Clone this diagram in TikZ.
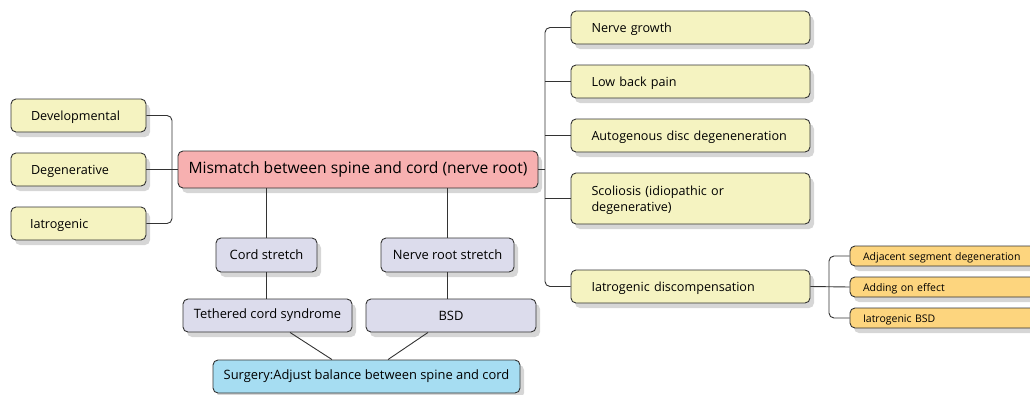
\documentclass[tikz,border=0pt]{standalone}
\usepackage{fontspec}
\setmainfont{Open Sans}
\usetikzlibrary{shadows,calc}
\definecolor{ybox}{HTML}{F5F3C1}
\definecolor{pbox}{HTML}{F7B0B0}
\definecolor{lbox}{HTML}{DCDCEC}
\definecolor{bbox}{HTML}{A6DDF2}
\definecolor{obox}{HTML}{FDD57E}
\definecolor{edge}{HTML}{333333}
\definecolor{shad}{HTML}{D6D6D6}
\tikzset{
  base/.style={draw=edge, line width=0.9pt, rounded corners=5pt, inner sep=0pt,
    drop shadow={shadow xshift=4pt, shadow yshift=-5pt, fill=shad, opacity=1}},
  yel/.style={base, fill=ybox, font=\fontsize{12.6}{16}\selectfont},
  yelL/.style={yel, align=left, inner xsep=20pt, text width=#1, text height=13.5pt, text depth=3pt},
  pink/.style={base, fill=pbox, font=\fontsize{15.6}{18}\selectfont},
  lav/.style={base, fill=lbox, font=\fontsize{12.9}{16}\selectfont},
  blu/.style={base, fill=bbox, font=\fontsize{12.9}{16}\selectfont},
  ora/.style={base, fill=obox, font=\fontsize{10.5}{12}\selectfont, align=left, inner xsep=13pt, text width=#1, text height=11pt, text depth=2.5pt},
  conn/.style={draw=edge, line width=0.9pt, rounded corners=5pt},
}
\begin{document}
\begin{tikzpicture}[x=1pt,y=-1pt]
\useasboundingbox (0,0) rectangle (1030,394);
% left
\node[yelL=95pt, minimum width=135pt, minimum height=33pt] (dev) at (78.5,115.5) {Developmental};
\node[yelL=95pt, minimum width=135pt, minimum height=33pt] (deg) at (78.5,169.5) {Degenerative};
\node[yelL=97pt, inner xsep=19pt, minimum width=135pt, minimum height=33pt] (iat) at (78.5,223.5) {Iatrogenic};
% main
\node[pink, minimum width=360pt, minimum height=37pt] (main) at (358,169.5) {Mismatch between spine and cord (nerve root)};
% right
\node[yelL=198pt, inner xsep=20.5pt, minimum width=239pt, minimum height=33pt] (ng) at (690.5,27.5) {Nerve growth};
\node[yelL=198pt, inner xsep=20.5pt, minimum width=239pt, minimum height=33pt] (lbp) at (690.5,81.5) {Low back pain};
\node[yelL=198pt, inner xsep=20.5pt, minimum width=239pt, minimum height=33pt] (adg) at (690.5,135.5) {Autogenous disc degeneneration};
\node[yel, align=left, text width=198pt, inner xsep=20.5pt, minimum width=239pt, minimum height=51pt, text height=14pt] (sco) at (690.5,198.5) {Scoliosis (idiopathic or\\degenerative)};
\node[yelL=198pt, inner xsep=20.5pt, minimum width=239pt, minimum height=33pt] (idc) at (690.5,286.5) {Iatrogenic discompensation};
% orange
\node[ora=174pt, minimum width=200pt, minimum height=20pt] (asd) at (950,256) {Adjacent segment degeneration};
\node[ora=174pt, minimum width=200pt, minimum height=20pt] (aoe) at (950,287) {Adding on effect};
\node[ora=174pt, minimum width=200pt, minimum height=20pt] (ibsd) at (950,318) {Iatrogenic BSD};
% middle
\node[lav, minimum width=101pt, minimum height=34pt] (cs) at (266.5,255) {Cord stretch};
\node[lav, minimum width=133pt, minimum height=34pt] (nrs) at (447.5,255) {Nerve root stretch};
\node[lav, minimum width=169pt, minimum height=33pt] (tcs) at (267.5,315.5) {Tethered cord syndrome};
\node[lav, minimum width=170pt, minimum height=33pt] (bsd) at (451,315.5) {BSD};
\node[blu, minimum width=307pt, minimum height=33pt] (sur) at (366.5,376.5) {Surgery:Adjust balance between spine and cord};
% connectors left
\coordinate (lb) at (172,0);
\draw[conn] (dev.east) -- (lb |- dev.east) -- (lb |- iat.east) -- (iat.east);
\draw[conn] (deg.east) -- (main.west);
% connectors right
\coordinate (rb) at (545,0);
\draw[conn] (main.east) -- (rb |- main.east);
\draw[conn] (ng.west) -- (rb |- ng.west) -- (rb |- idc.west) -- (idc.west);
\draw[conn] (lbp.west) -- (rb |- lbp.west);
\draw[conn] (adg.west) -- (rb |- adg.west);
\draw[conn] (sco.west) -- (rb |- sco.west);
% orange bracket
\coordinate (ob) at (829,0);
\draw[conn] (idc.east) -- (aoe.west);
\draw[conn] (asd.west) -- (ob |- asd.west) -- (ob |- ibsd.west) -- (ibsd.west);
% vertical
\draw[conn] (cs.north) -- (cs.north |- main.south);
\draw[conn] (nrs.north) -- (nrs.north |- main.south);
\draw[conn] (cs.south) -- (cs.south |- tcs.north);
\draw[conn] (nrs.south) -- (nrs.south |- bsd.north);
\draw[conn] ($(tcs.south)+(22.5,0)$) -- ($(sur.north)+(-34.5,0)$);
\draw[conn] ($(bsd.south)+(-23,0)$) -- ($(sur.north)+(21.5,0)$);
\end{tikzpicture}
\end{document}
